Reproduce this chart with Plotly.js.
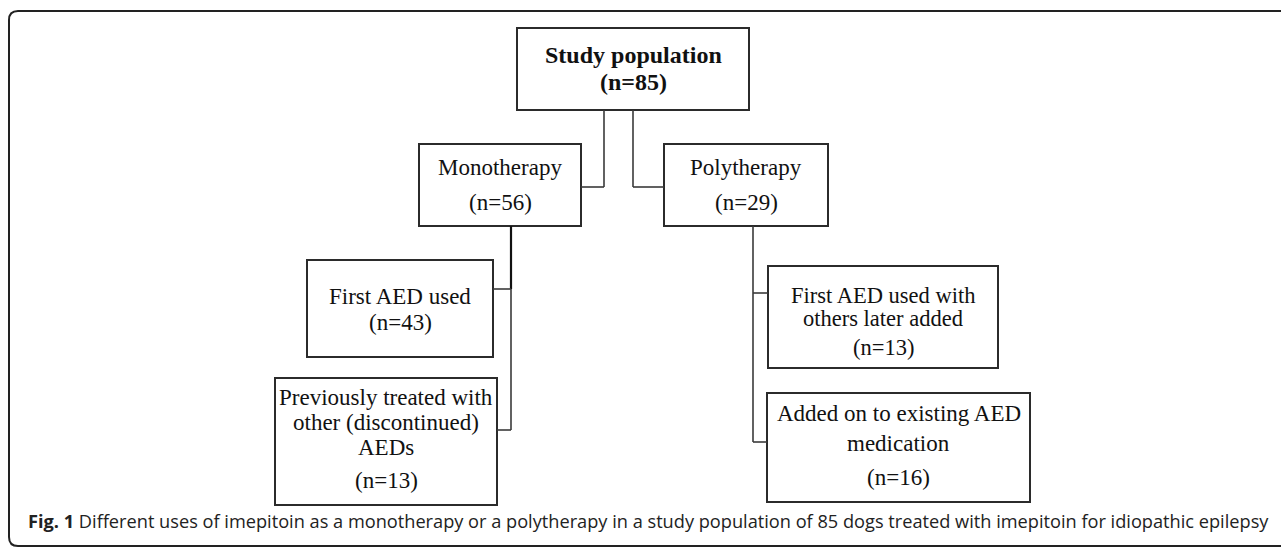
<!DOCTYPE html>
<html>
<head>
<meta charset="utf-8">
<script src="https://cdn.plot.ly/plotly-3.0.1.min.js"></script>
<style>html,body{margin:0;padding:0;background:#fff;overflow:hidden;}</style>
</head>
<body>
<div id="chart" style="width:1281px;height:548px;"></div>
<script>
// ---- data ----
const nodeIds = ["root", "mono", "poly", "monoFirst", "monoPrev", "polyFirst", "polyAdded"];
const nodeLines = [
  ["Study population"],
  ["Monotherapy"],
  ["Polytherapy"],
  ["First AED used"],
  ["Previously treated with", "other (discontinued)", "AEDs"],
  ["First AED used with", "others later added"],
  ["Added on to existing AED", "medication"]
];
const nodeCounts = [85, 56, 29, 43, 13, 13, 16];
const nodeParents = [null, "root", "root", "mono", "mono", "poly", "poly"];
const captionBold = "Fig. 1";
const captionText = "Different uses of imepitoin as a monotherapy or a polytherapy in a study population of 85 dogs treated with imepitoin for idiopathic epilepsy";

// ---- layout (pixel geometry of boxes) ----
const boxes = {
  root:      {x0: 517, x1: 749, y0: 28,  y1: 110, ys: [55, 82], size: 24},
  mono:      {x0: 419, x1: 581, y0: 144, y1: 226, ys: [167, 202], size: 23},
  poly:      {x0: 664, x1: 828, y0: 144, y1: 226, ys: [167, 202], size: 23},
  monoFirst: {x0: 307, x1: 493, y0: 260, y1: 357, ys: [296, 322], size: 23},
  monoPrev:  {x0: 275, x1: 497, y0: 378, y1: 505, ys: [397, 422, 447, 480], size: 23},
  polyFirst: {x0: 768, x1: 998, y0: 266, y1: 368, ys: [295, 318, 347], size: 22.5},
  polyAdded: {x0: 767, x1: 1030, y0: 393, y1: 502, ys: [413, 443, 477], size: 23}
};

const shapes = [];
const annotations = [];
const boxLine = {color: '#2b2b2b', width: 2};
const connLine = {color: '#3a3a3a', width: 1.6};

// outer rounded frame
shapes.push({type: 'path', xref: 'x', yref: 'y',
  path: 'M 1300,11 L 18,11 Q 9,11 9,20 L 9,537 Q 9,546 18,546 L 1300,546',
  line: {color: '#222', width: 2}});

nodeIds.forEach((id, i) => {
  const b = boxes[id];
  shapes.push({type: 'rect', xref: 'x', yref: 'y', x0: b.x0, x1: b.x1, y0: b.y0, y1: b.y1,
    line: boxLine, fillcolor: 'rgba(0,0,0,0)'});
  const lines = nodeLines[i].concat(["(n=" + nodeCounts[i] + ")"]);
  const cx = (b.x0 + b.x1) / 2;
  lines.forEach((t, k) => {
    annotations.push({x: cx, y: b.ys[k], xref: 'x', yref: 'y', showarrow: false,
      text: i === 0 ? '<b>' + t + '</b>' : t,
      xanchor: 'center', yanchor: 'middle',
      font: {family: 'Liberation Serif, Times New Roman, serif', size: b.size, color: '#111'}});
  });
});

// connectors
function seg(x0, y0, x1, y1, line) {
  shapes.push({type: 'line', xref: 'x', yref: 'y', x0: x0, y0: y0, x1: x1, y1: y1, line: line || connLine});
}
// root -> mono / poly
seg(604, 110, 604, 187); seg(604, 187, 581, 187);
seg(633, 110, 633, 187); seg(633, 187, 664, 187);
// mono -> children
seg(511, 226, 511, 289, {color: '#111', width: 2.2});
seg(511, 289, 511, 430);
seg(493, 289, 511, 289);
seg(497, 430, 511, 430);
// poly -> children
seg(753, 226, 753, 442);
seg(753, 293, 768, 293);
seg(753, 442, 767, 442);

// caption
annotations.push({x: 26, y: 521, xref: 'x', yref: 'y', showarrow: false, xanchor: 'left', yanchor: 'middle',
  text: '<b>' + captionBold + '</b> ' + captionText,
  font: {family: 'Open Sans, sans-serif', size: 18.2, color: '#222'}});

const layout = {
  width: 1281, height: 548,
  margin: {l: 0, r: 0, t: 0, b: 0},
  paper_bgcolor: '#fff', plot_bgcolor: '#fff',
  xaxis: {range: [0, 1281], visible: false, fixedrange: true},
  yaxis: {range: [548, 0], visible: false, fixedrange: true},
  shapes: shapes,
  annotations: annotations,
  showlegend: false
};

Plotly.newPlot('chart', [], layout, {displayModeBar: false, staticPlot: true});
</script>
</body>
</html>
